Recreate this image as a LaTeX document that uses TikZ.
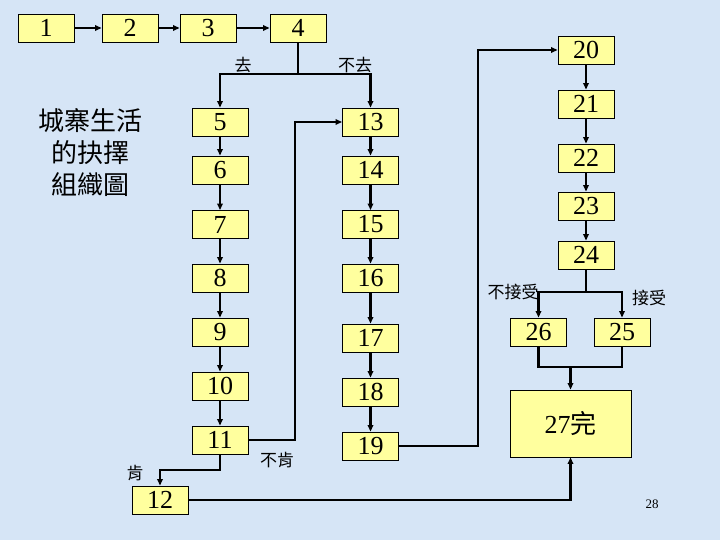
\documentclass[tikz,border=0pt]{standalone}
\usepackage{fontspec}
\setmainfont{Liberation Serif}
\newfontfamily\cjk{Noto Sans CJK TC}
\usetikzlibrary{arrows.meta}
\definecolor{bgblue}{RGB}{214,229,246}
\definecolor{boxyellow}{RGB}{255,255,158}
\begin{document}
\begin{tikzpicture}[x=1pt,y=-1pt,
  box/.style={draw=black,line width=0.9pt,fill=boxyellow,minimum width=56pt,minimum height=28pt,inner sep=0pt,font=\fontsize{26}{26}\selectfont},
  conn/.style={line width=2.3pt,draw=black},
  arr/.style={conn,-{Triangle[length=6.5pt,width=5.5pt]}},
  lbl/.style={font=\cjk\fontsize{17}{17}\selectfont,inner sep=0pt}]
\fill[bgblue] (0,0) rectangle (720,540);
\useasboundingbox (0,0) rectangle (720,540);
% top row
\node[box] (b1) at (46,28) {1};
\node[box] (b2) at (130,28) {2};
\node[box] (b3) at (208,28) {3};
\node[box] (b4) at (298,28) {4};
% left column
\node[box] (b5) at (220,122) {5};
\node[box] (b6) at (220,170) {6};
\node[box] (b7) at (220,224.5) {7};
\node[box] (b8) at (220,278) {8};
\node[box] (b9) at (220,332) {9};
\node[box] (b10) at (220,386) {10};
\node[box] (b11) at (220,440) {11};
\node[box] (b12) at (160,500) {12};
% middle column
\node[box] (b13) at (370.5,122) {13};
\node[box] (b14) at (370.5,170) {14};
\node[box] (b15) at (370.5,224.5) {15};
\node[box] (b16) at (370.5,278) {16};
\node[box] (b17) at (370.5,338) {17};
\node[box] (b18) at (370.5,392) {18};
\node[box] (b19) at (370.5,446) {19};
% right column
\node[box] (b20) at (586,50) {20};
\node[box] (b21) at (586,104) {21};
\node[box] (b22) at (586,158) {22};
\node[box] (b23) at (586,206) {23};
\node[box] (b24) at (586,255) {24};
\node[box] (b26) at (538.5,332) {26};
\node[box] (b25) at (622,332) {25};
\node[box,minimum width=121pt,minimum height=67pt] (b27) at (570.5,423.5) {27{\cjk 完}};
% title
\node[font=\cjk\fontsize{26}{32}\selectfont,align=center] (title) at (90,153) {城寨生活\\的抉擇\\組織圖};
% labels
\node[lbl] (lgo) at (243,65) {去};
\node[lbl] (lnogo) at (355,65) {不去};
\node[lbl] (lno) at (277,460) {不肯};
\node[lbl] (lyes) at (135,473) {肯};
\node[lbl] (lrej) at (513,292) {不接受};
\node[lbl] (lacc) at (649,298) {接受};
\node[font=\fontsize{13}{13}\selectfont] (pg) at (652,504) {28};
% coordinates
\coordinate (s4) at (298,74);
\coordinate (k11) at (295,281);
\coordinate (k12) at (190,470);
\coordinate (k19) at (478,250);
\coordinate (s24) at (586,292);
\coordinate (m27) at (570.5,367);
% connectors
\draw[arr] (b1) -- (b2);
\draw[arr] (b2) -- (b3);
\draw[arr] (b3) -- (b4);
\draw[conn] (b4.south) -- (s4);
\draw[arr] (s4) -| (b5.north);
\draw[arr] (s4) -| (b13.north);
\draw[arr] (b5) -- (b6);
\draw[arr] (b6) -- (b7);
\draw[arr] (b7) -- (b8);
\draw[arr] (b8) -- (b9);
\draw[arr] (b9) -- (b10);
\draw[arr] (b10) -- (b11);
\draw[arr] (b13) -- (b14);
\draw[arr] (b14) -- (b15);
\draw[arr] (b15) -- (b16);
\draw[arr] (b16) -- (b17);
\draw[arr] (b17) -- (b18);
\draw[arr] (b18) -- (b19);
\draw[arr] (b11.east) -| (k11) |- (b13.west);
\draw[arr] (b11.south) |- (k12) -| (b12.north);
\draw[arr] (b12.east) -| (b27.south);
\draw[arr] (b19.east) -| (k19) |- (b20.west);
\draw[arr] (b20) -- (b21);
\draw[arr] (b21) -- (b22);
\draw[arr] (b22) -- (b23);
\draw[arr] (b23) -- (b24);
\draw[conn] (b24.south) -- (s24);
\draw[arr] (s24) -| (b26.north);
\draw[arr] (s24) -| (b25.north);
\draw[conn] (b26.south) |- (m27) -| (b25.south);
\draw[arr] (m27) -- (b27.north);
\end{tikzpicture}
\end{document}
